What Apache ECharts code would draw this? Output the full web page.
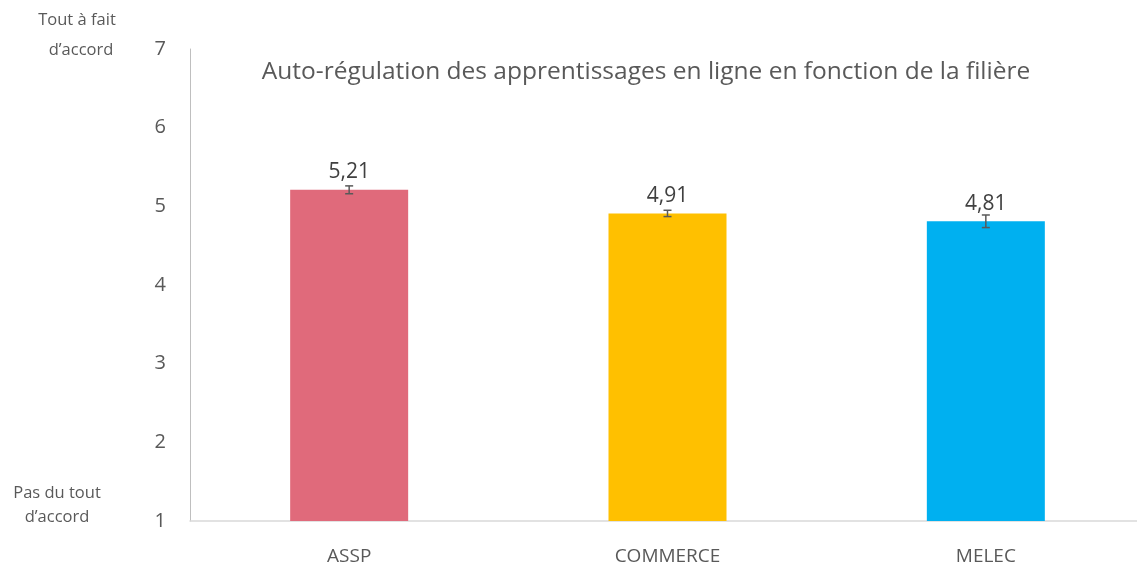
<!DOCTYPE html>
<html>
<head>
<meta charset="utf-8">
<script src="https://cdn.jsdelivr.net/npm/echarts@6/dist/echarts.min.js"></script>
<style>
  html, body { margin: 0; padding: 0; background: #fff; }
  #chart { width: 1137px; height: 567px; }
</style>
</head>
<body>
<div id="chart"></div>
<script>
// Filières and their mean self-regulation score (scale 1–7)
const categories = ['ASSP', 'COMMERCE', 'MELEC'];
const means = [5.21, 4.91, 4.81];
const errors = [0.05, 0.04, 0.08];
const colors = ['#E06A7B', '#FFC000', '#00B0F0'];
const titleText = 'Auto-régulation des apprentissages en ligne en fonction de la filière';
const topAnchor = ['Tout à fait', 'd\u2019accord'];
const bottomAnchor = ['Pas du tout', 'd\u2019accord'];

const FONT = '"Open Sans", sans-serif';
const chart = echarts.init(document.getElementById('chart'));

const anchorText = (text, x, y) => ({
  type: 'text', x: x, y: y,
  style: { text: text, font: '16.5px ' + FONT, fill: '#595959', align: 'center', verticalAlign: 'middle' }
});

chart.setOption({
  animation: false,
  title: {
    text: titleText,
    left: 641,
    textAlign: 'center',
    top: 55,
    textStyle: { fontFamily: FONT, fontSize: 24.5, fontWeight: 'normal', color: '#595959' }
  },
  grid: { left: 190, top: 49, bottom: 46, width: 955, outerBoundsMode: 'none' },
  xAxis: {
    type: 'category',
    data: categories,
    axisTick: { show: false },
    axisLine: { lineStyle: { color: '#D9D9D9', width: 1.5 } },
    axisLabel: { fontFamily: FONT, fontSize: 19, color: '#595959', margin: 26 }
  },
  yAxis: {
    type: 'value',
    min: 1, max: 7, interval: 1,
    splitLine: { show: false },
    axisLine: { show: true, lineStyle: { color: '#BFBFBF', width: 1 } },
    axisTick: { show: false },
    axisLabel: { fontFamily: FONT, fontSize: 20, color: '#595959', margin: 24 }
  },
  graphic: [
    anchorText(topAnchor[0], 77, 20),
    anchorText(topAnchor[1], 81, 50),
    anchorText(bottomAnchor[0], 57, 493),
    anchorText(bottomAnchor[1], 57, 517)
  ],
  series: [
    {
      type: 'bar',
      barWidth: 118,
      data: means.map((v, i) => ({ value: v, itemStyle: { color: colors[i] } })),
      label: {
        show: true,
        position: 'top',
        distance: 7,
        formatter: p => String(p.value).replace('.', ','),
        fontFamily: FONT, fontSize: 21, color: '#404040'
      },
      z: 2
    },
    {
      type: 'custom',
      z: 3,
      data: means.map((v, i) => [i, v - errors[i], v + errors[i]]),
      renderItem: (params, api) => {
        const lo = api.coord([api.value(0), api.value(1)]);
        const hi = api.coord([api.value(0), api.value(2)]);
        const x = lo[0], hw = 4;
        const st = { stroke: '#595959', lineWidth: 1.5 };
        return {
          type: 'group',
          children: [
            { type: 'line', shape: { x1: x, y1: lo[1], x2: x, y2: hi[1] }, style: st },
            { type: 'line', shape: { x1: x - hw, y1: lo[1], x2: x + hw, y2: lo[1] }, style: st },
            { type: 'line', shape: { x1: x - hw, y1: hi[1], x2: x + hw, y2: hi[1] }, style: st }
          ]
        };
      }
    }
  ]
});
</script>
</body>
</html>
